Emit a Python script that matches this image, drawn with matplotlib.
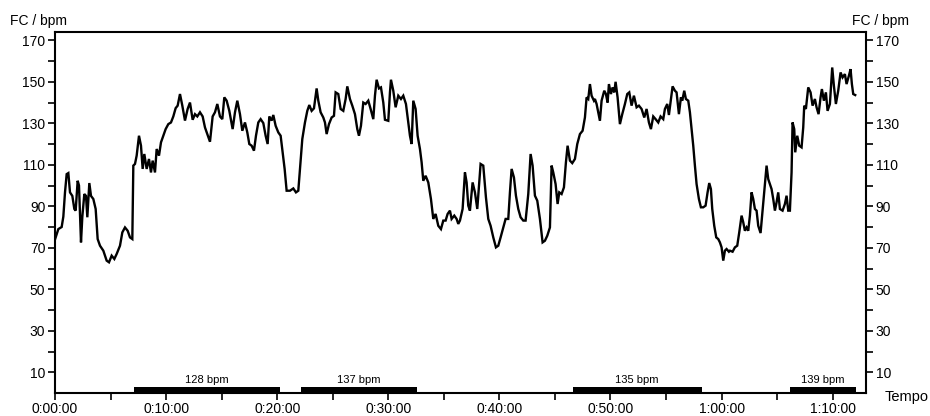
import matplotlib
matplotlib.use("Agg")
import matplotlib.pyplot as plt
from matplotlib.ticker import MultipleLocator, FuncFormatter

plt.rcParams['font.family'] = ['Liberation Sans', 'DejaVu Sans']

# Frequenza cardiaca registrata (tempo in minuti, FC in bpm)
t_min = [
    0.0, 0.3, 0.6, 0.75, 0.9, 1.05, 1.2, 1.35, 1.56, 1.74, 1.86, 2.04, 2.16, 2.34,
    2.46, 2.64, 2.79, 2.91, 3.09, 3.24, 3.45, 3.66, 3.84, 4.05, 4.35, 4.65, 4.86,
    5.1, 5.34, 5.55, 5.85, 6.06, 6.3, 6.54, 6.75, 6.96, 7.05, 7.2, 7.35, 7.56, 7.74,
    7.89, 8.04, 8.25, 8.46, 8.64, 8.79, 9.0, 9.15, 9.36, 9.54, 9.75, 9.96, 10.2,
    10.44, 10.65, 10.86, 11.04, 11.25, 11.46, 11.7, 11.94, 12.15,
    12.39, 12.6, 12.81, 13.05, 13.29, 13.5, 13.71, 13.95, 14.19, 14.4, 14.61, 14.85,
    15.06, 15.24, 15.45, 15.69, 15.99, 16.2, 16.41, 16.65, 16.86, 17.1, 17.31, 17.49,
    17.7, 17.91, 18.09, 18.3, 18.51, 18.75, 18.96, 19.14, 19.29, 19.5, 19.65, 19.86,
    20.1, 20.31, 20.49, 20.67, 20.85, 21.15, 21.45, 21.69, 21.9, 22.05, 22.26, 22.5,
    22.71, 22.89, 23.1, 23.31, 23.55, 23.7, 23.91, 24.15,
    24.3, 24.45, 24.66, 24.9, 25.11, 25.26, 25.5, 25.71, 25.95, 26.16, 26.31, 26.55,
    26.76, 27.0, 27.21, 27.36, 27.54, 27.75, 27.96, 28.2, 28.41, 28.65, 28.8, 28.95,
    29.16, 29.34, 29.55, 29.7, 30.0, 30.15, 30.24, 30.45, 30.66, 30.9, 31.14, 31.35,
    31.59, 31.8, 31.95, 32.1, 32.25, 32.46, 32.64, 32.85, 33.0, 33.15, 33.36, 33.6,
    33.84, 34.05, 34.26, 34.5, 34.74, 34.95, 35.16, 35.34, 35.55, 35.7, 35.94, 36.15,
    36.3,
    36.45, 36.69, 36.9, 37.05, 37.2, 37.35, 37.59, 37.8, 38.01, 38.19, 38.31, 38.55,
    38.79, 39.0, 39.21, 39.45, 39.69, 39.9, 40.11, 40.35, 40.56, 40.8, 40.95, 41.1,
    41.31, 41.49, 41.7, 41.91, 42.15, 42.36, 42.6, 42.81, 42.99, 43.2, 43.41, 43.65,
    43.89, 44.1, 44.31, 44.55, 44.7, 44.85, 45.06, 45.24, 45.39, 45.6, 45.81, 45.99,
    46.14, 46.35, 46.56, 46.8, 47.01, 47.25, 47.49, 47.7, 47.85, 48.0, 48.15, 48.3,
    48.51,
    48.6, 48.75, 48.9, 49.05, 49.2, 49.44, 49.59, 49.74, 49.86, 50.04, 50.19, 50.34,
    50.46, 50.64, 50.85, 51.06, 51.3, 51.51, 51.69, 51.9, 52.11, 52.35, 52.56, 52.8,
    53.04, 53.25, 53.46, 53.64, 53.85, 54.06, 54.3, 54.51, 54.75, 54.9, 55.11, 55.26,
    55.44, 55.59, 55.8, 55.95, 56.16, 56.34, 56.46, 56.64, 56.79, 57.0, 57.15, 57.3,
    57.45, 57.6, 57.75, 57.96, 58.14, 58.35, 58.56, 58.74, 58.89, 59.04, 59.16, 59.34,
    59.52, 59.7, 59.85, 60.0, 60.15, 60.3, 60.45, 60.66,
    60.75, 60.99, 61.2, 61.41, 61.59, 61.8, 61.95, 62.1, 62.25, 62.4, 62.55, 62.7,
    62.85, 63.0, 63.15, 63.3, 63.51, 63.69, 63.87, 64.05, 64.2, 64.35, 64.5, 64.65,
    64.8, 64.95, 65.1, 65.25, 65.49, 65.7, 65.85, 66.0, 66.15, 66.3, 66.39, 66.54,
    66.63, 66.81, 66.99, 67.2, 67.35, 67.44, 67.59, 67.8, 68.01, 68.19, 68.4, 68.55,
    68.73, 68.91, 69.03, 69.21, 69.39, 69.54, 69.75, 69.96, 70.11, 70.29, 70.5, 70.71,
    70.89, 71.1, 71.25, 71.46, 71.61, 71.73, 71.85, 72.03,
]
fc_bpm = [
    74, 79, 80, 85, 96.7, 105.5, 106, 96.7, 95, 88.7, 87.9, 102.3, 100, 72.6,
    85, 95.9, 95, 84.7, 101.2, 95, 93.5, 88.7, 74.2, 71, 68.6, 63.8, 63,
    66.2, 64.6, 67, 71, 77.4, 79.8, 78.2, 75, 74.2, 109.6, 110.4, 114.4, 124, 119.2,
    108, 115.2, 108, 112.8, 106.3, 112, 106.3, 117.6, 114.4, 120.8, 124, 127.2, 129.6,
    130.4, 133.3, 137.3, 138.5, 144.1, 138.5, 131.3, 136.9, 140,
    131.7, 134.4, 133.3, 135.3, 133.3, 128, 124.8, 121.1, 133.3, 135.3, 139.3, 133.3,
    132, 142.5, 140.9, 136, 127.2, 135.3, 140.9, 134.4, 126.4, 130.4, 125.6, 120,
    119.2, 116.8, 124, 130.4, 132, 130.1, 124, 120, 133.3, 131.3, 134, 128.8,
    125.6, 124, 116, 108, 97.5, 97.5, 98.6, 96.7, 97.5, 108, 122.4, 130.4,
    136, 138.8, 136, 137.2, 146.8, 140.9, 135.3, 132.8,
    130.4, 124.8, 129.6, 132.8, 133.6, 144.9, 144.1, 136.9, 136, 141.7, 147.8, 141.7,
    138.5, 134.4, 127.2, 124, 128.8, 140, 139.3, 140.9, 136.9, 132, 143.3, 151,
    146.8, 147.3, 140, 131.7, 131.2, 144.9, 151, 145.7, 137.7, 143.3, 141.7, 143.3,
    139.3, 130.4, 124, 120, 140.9, 136.9, 124, 117.6, 111.2, 102.3, 104.7, 101.5,
    93.5, 83.9, 86.3, 80.6, 79, 83.1, 83.1, 86.3, 87.9, 83.9, 85.5, 83.9,
    81.5,
    83.1, 88.7, 106.3, 101.5, 90.3, 87.9, 101.5, 96.7, 88.7, 101.5, 110.4, 109.6,
    94.3, 83.9, 80.6, 75, 70.2, 71, 75, 79.8, 83.9, 83.9, 96.7, 108,
    103.9, 95.1, 88.7, 84.7, 83.1, 83.1, 95.9, 115.2, 109.6, 95.1, 92.7, 83.9,
    72.6, 73.4, 75.8, 79.8, 109.6, 106.3, 100.7, 91.1, 96.7, 95.9, 99.1, 111.2,
    119.2, 112, 110.8, 112.8, 120, 124.8, 126.4, 132.8, 142.5, 141.7, 148.9, 143.3,
    140.9,
    141.7, 139.3, 135.3, 131.2, 140.9, 145.7, 144.1, 140, 148.9, 144.1, 147.3, 144.9,
    150, 142.5, 129.6, 134.4, 139.3, 144.1, 144.9, 138.5, 143.3, 137.7, 138.5, 136.9,
    132.8, 136.9, 130.4, 127.2, 133.3, 132, 130.4, 133.3, 132, 136.9, 139.3, 134,
    141.7, 147.8, 145.7, 144.9, 134.4, 142.5, 140.9, 145.7, 141.7, 140.9, 135.3, 127.2,
    119.2, 109.6, 100.7, 93.5, 89.5, 89.5, 90.3, 96.7, 101.2, 98.3, 88.7, 80.6,
    75, 74.2, 72.6, 70.2, 63.8, 68.6, 69.4, 68.1,
    68.6, 68.1, 70.2, 71, 77.4, 85.5, 82.3, 78.2, 79.8, 78.2, 85.5, 96.7,
    93.5, 88.7, 87.9, 80.6, 77.1, 87.9, 98.3, 109.6, 103.1, 100.7, 98.3, 93.5,
    87.9, 91.9, 96.7, 88.7, 87.9, 91.1, 95.1, 87.9, 87.9, 106.3, 130.4, 127.2,
    116, 124, 119.2, 118.4, 128, 138.5, 136.9, 147.3, 144.9, 138.5, 141.7, 137.7,
    134.4, 142.5, 146.5, 140.9, 144.9, 136, 139.3, 156.9, 148.1, 139.3, 145.7, 154.5,
    152.1, 153.7, 148.9, 152.9, 156.1, 148.9, 144.1, 143.6,
]

# Intervalli di lavoro con FC media
bar_start = [7.1, 22.1, 46.6, 66.2]
bar_end = [20.25, 32.6, 58.2, 72.1]
bar_labels = ["128 bpm", "137 bpm", "135 bpm", "139 bpm"]


def fmt_tempo(x, pos):
    m = int(round(x))
    return "%d:%02d:00" % (m // 60, m % 60)


fig = plt.figure(figsize=(9.3, 4.16), dpi=100)
ax = fig.add_axes([55 / 930, 1 - 393 / 416, 811 / 930, 361 / 416])

ax.plot(t_min, fc_bpm, color='black', lw=1.7, solid_joinstyle='miter')

for s, e, lab in zip(bar_start, bar_end, bar_labels):
    ax.broken_barh([(s, e - s)], (0, 3), facecolors='black')
    ax.text((s + e) / 2, 3.8, lab, ha='center', va='bottom', fontsize=8)

ax.set_xlim(0, 73)
ax.set_ylim(0, 174)

ax.xaxis.set_major_locator(MultipleLocator(10))
ax.xaxis.set_minor_locator(MultipleLocator(5))
ax.xaxis.set_major_formatter(FuncFormatter(fmt_tempo))
ax.set_yticks(range(10, 171, 20))
ax.set_yticks(range(20, 171, 20), minor=True)

for sp in ax.spines.values():
    sp.set_linewidth(1.5)

ax.tick_params(which='both', direction='out', length=5, width=1.2, labelsize=10,
               color='black')
ax.tick_params(axis='y', which='both', left=True, right=True, labelleft=True,
               labelright=True, pad=2)
ax.tick_params(axis='x', which='both', top=False, pad=1.5)

fig.text(10 / 930, 1 - 21 / 416, "FC / bpm", ha='left', va='center', fontsize=10)
fig.text(852 / 930, 1 - 21 / 416, "FC / bpm", ha='left', va='center', fontsize=10)
fig.text(885 / 930, 1 - 397 / 416, "Tempo", ha='left', va='center', fontsize=10.5)

fig.savefig("out.png", dpi=100)
